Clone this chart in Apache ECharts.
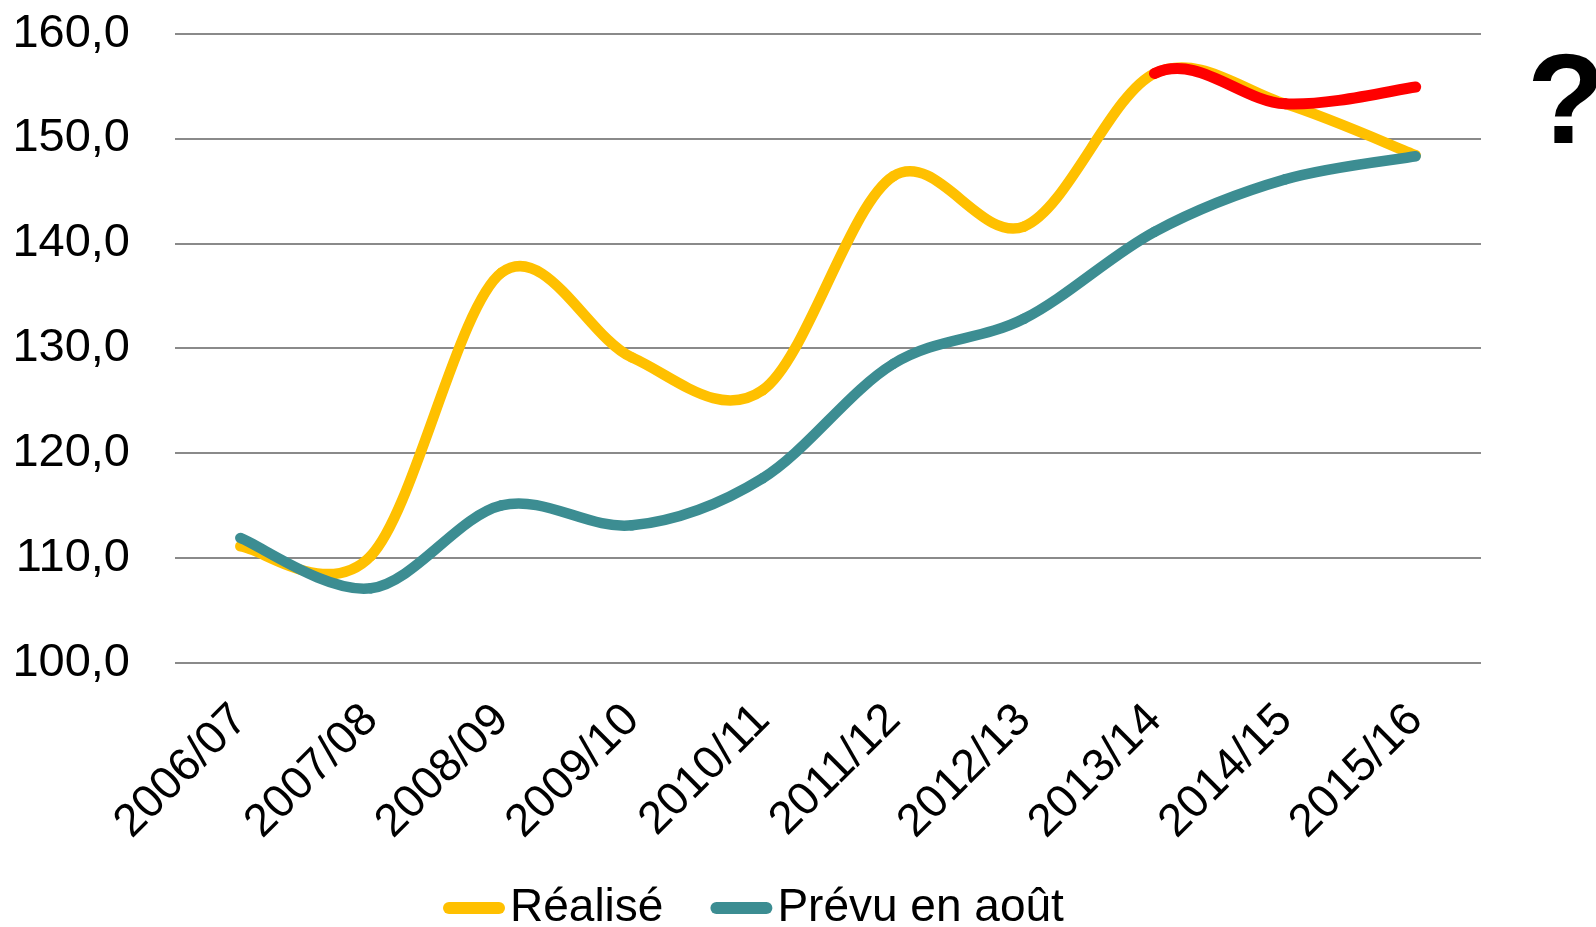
<!DOCTYPE html>
<html>
<head>
    <meta charset="utf-8">
    <title>Réalisé / Prévu en août</title>
    <script src="https://cdn.jsdelivr.net/npm/echarts@6/dist/echarts.min.js"></script>
    <style>
        html, body { margin: 0; padding: 0; background: #fff; }
    </style>
</head>
<body>
    <div id="main" style="width: 1596px;height:927px;"></div>
    <script type="text/javascript">
        // years on the x axis
        var years = ['2006/07', '2007/08', '2008/09', '2009/10', '2010/11',
                     '2011/12', '2012/13', '2013/14', '2014/15', '2015/16'];
        // values
        var realise = [111.1, 110.2, 137.2, 129.1, 126.0, 146.4, 141.6, 156.2, 153.3, 148.4];
        var prevu = [111.9, 107.1, 115.0, 113.1, 117.6, 128.5, 132.8, 141.1, 146.1, 148.3];
        var rouge = [null, null, null, null, null, null, null, 156.2, 153.3, 154.9];
        var yLabels = ['100,0', '110,0', '120,0', '130,0', '140,0', '150,0', '160,0'];

        var font = 'Liberation Sans, Arial, sans-serif';
        var myChart = echarts.init(document.getElementById('main'));

        // smooth curve like the spreadsheet does: one bezier segment per point,
        // control points from the neighbours (missing neighbours taken from ref)
        function smoothSeg(arr, ref, color, width) {
            return function (params, api) {
                var i = params.dataIndex;
                if (i === 0 || arr[i] == null || arr[i - 1] == null) return null;
                function pt(k) {
                    k = Math.max(0, Math.min(arr.length - 1, k));
                    var v = arr[k] != null ? arr[k] : ref[k];
                    return api.coord([k, v]);
                }
                var p0 = pt(i - 2), p1 = pt(i - 1), p2 = pt(i), p3 = pt(i + 1);
                return {
                    type: 'bezierCurve',
                    shape: {
                        x1: p1[0], y1: p1[1], x2: p2[0], y2: p2[1],
                        cpx1: p1[0] + (p2[0] - p0[0]) / 6,
                        cpy1: p1[1] + (p2[1] - p0[1]) / 6,
                        cpx2: p2[0] - (p3[0] - p1[0]) / 6,
                        cpy2: p2[1] - (p3[1] - p1[1]) / 6
                    },
                    style: { fill: 'none', stroke: color, lineWidth: width, lineCap: 'round' }
                };
            };
        }
        function pairs(arr) {
            return arr.map(function (v, i) { return [i, v]; });
        }

        var option = {
            backgroundColor: '#fff',
            animation: false,
            grid: {
                left: 175,
                right: 115,
                top: 33.6,
                bottom: 264.3
            },
            legend: {
                data: ['Réalisé', 'Prévu en août'],
                left: 443,
                top: 885,
                padding: 0,
                itemGap: 47,
                itemWidth: 62,
                itemHeight: 12,
                icon: 'path://M6,0H56A6,6,0,0,1,56,12H6A6,6,0,0,1,6,0Z',
                textStyle: { fontFamily: font, fontSize: 46, color: '#000' }
            },
            xAxis: {
                type: 'category',
                data: years,
                axisLine: { show: false },
                axisTick: { show: false },
                axisLabel: {
                    interval: 0,
                    rotate: 45,
                    margin: 50,
                    fontFamily: font,
                    fontSize: 46,
                    color: '#000'
                }
            },
            yAxis: {
                type: 'value',
                min: 100,
                max: 160,
                interval: 10,
                axisLine: { show: false },
                axisTick: { show: false },
                splitLine: { lineStyle: { color: '#8a8a8a', width: 2 } },
                axisLabel: {
                    margin: 45,
                    fontFamily: font,
                    fontSize: 47,
                    color: '#000',
                    formatter: function (v, i) { return yLabels[i]; }
                }
            },
            graphic: [{
                type: 'text',
                left: 1527,
                top: 44,
                style: {
                    text: '?',
                    fontFamily: font,
                    fontWeight: 'bold',
                    fontSize: 128,
                    fill: '#000'
                }
            }],
            series: [{
                name: 'Réalisé',
                type: 'custom',
                itemStyle: { color: '#FFC000' },
                encode: { x: 0, y: 1 },
                renderItem: smoothSeg(realise, realise, '#FFC000', 10.5),
                data: pairs(realise)
            }, {
                name: 'Prévu en août',
                type: 'custom',
                itemStyle: { color: '#3C8D92' },
                encode: { x: 0, y: 1 },
                renderItem: smoothSeg(prevu, prevu, '#3C8D92', 10.5),
                data: pairs(prevu)
            }, {
                name: 'rouge',
                type: 'custom',
                itemStyle: { color: '#FF0000' },
                encode: { x: 0, y: 1 },
                renderItem: smoothSeg(rouge, realise, '#FF0000', 11),
                data: pairs(rouge)
            }]
        };
        myChart.setOption(option);
    </script>
</body>
</html>
